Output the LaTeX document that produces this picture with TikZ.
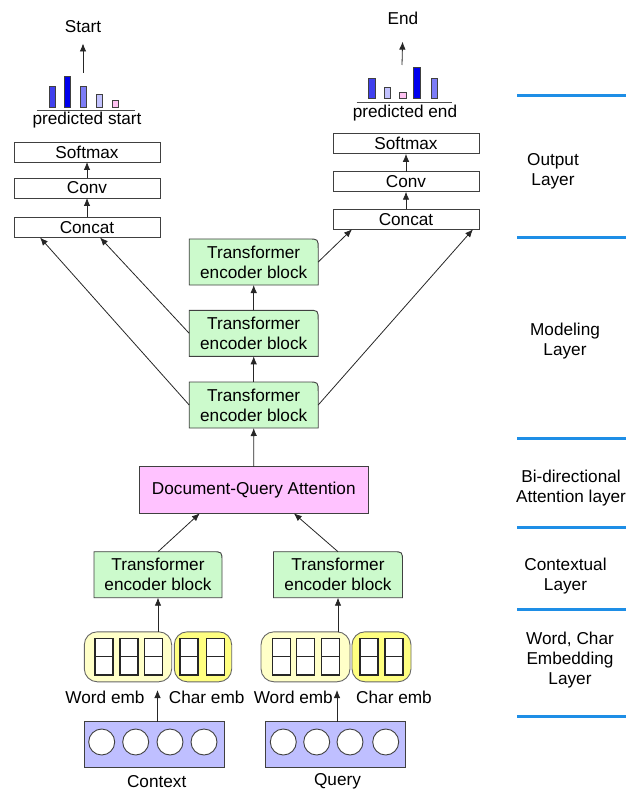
\documentclass[tikz,border=0pt]{standalone}
\usepackage{fontspec}
\setmainfont{Liberation Sans}
\usetikzlibrary{arrows.meta,backgrounds}
\definecolor{tgreen}{HTML}{CCFACC}
\definecolor{dqpink}{HTML}{FFC2FF}
\definecolor{ctxblue}{HTML}{BFBFFF}
\definecolor{wyel}{HTML}{FFFFC8}
\definecolor{cyel}{HTML}{FFFF80}
\definecolor{sepblue}{HTML}{1E8EE6}
\definecolor{barA}{HTML}{4040EE}
\definecolor{barB}{HTML}{0000EE}
\definecolor{barC}{HTML}{7C7CF6}
\definecolor{barD}{HTML}{C2C2FF}
\definecolor{barE}{HTML}{FFC2F2}
\definecolor{edge}{HTML}{404040}
\begin{document}
\begin{tikzpicture}[x=1pt,y=-1pt,
  every node/.style={font=\fontsize{17.2}{20}\selectfont, inner sep=0pt, outer sep=0pt},
  obox/.style={draw=edge, fill=white, line width=0.9pt, minimum width=146pt, minimum height=20pt},
  tblock/.style={minimum width=129pt, minimum height=46pt, align=center},
  tbshape/.style={draw=edge, fill=tgreen, line width=0.9pt},
  dqbox/.style={draw=edge, fill=dqpink, line width=0.9pt, minimum width=229pt, minimum height=46.6pt},
  pill/.style={draw=edge!80, line width=0.9pt, rounded corners=13pt, minimum height=50pt},
  cell/.style={draw=black!85, fill=white, line width=1.1pt},
  inbox/.style={draw=edge, fill=ctxblue, line width=0.9pt, minimum width=140pt, minimum height=45.6pt},
  dot/.style={draw=edge, fill=white, line width=0.9pt},
  bar/.style={draw=edge, line width=0.8pt},
  arr/.style={-{Latex[length=8pt,width=6.5pt]}, draw=black!85, line width=0.8pt},
  sep/.style={draw=sepblue, line width=3pt},
  lbl/.style={align=center}
]
\useasboundingbox (0,0) rectangle (626,791);

% ---------- output layer, left ----------
\node (start) at (83,26.7) {Start};
\coordinate (sbar) at (83,73);
\draw[arr, shorten >=10.7pt] (sbar) -- (start.south);
\draw[bar, fill=barA] (49.3,86) rectangle (55.7,107.5);
\draw[bar, fill=barB] (64.3,76.7) rectangle (70.7,107.5);
\draw[bar, fill=barC] (80,86) rectangle (86.7,107.5);
\draw[bar, fill=barD] (96,94.3) rectangle (102.3,107.5);
\draw[bar, fill=barE] (112.3,100) rectangle (118.7,107.5);
\draw[draw=black!70, line width=0.9pt] (37,110) -- (135,110);
\node (pstart) at (87,120) {predicted start};
\node[obox] (lsoft) at (87,152) {Softmax};
\node[obox] (lconv) at (87,188) {Conv};
\node[obox] (lconcat) at (87,227.5) {Concat};
\draw[arr] (lconv.north) -- (lsoft.south);
\draw[arr] (lconcat.north) -- (lconv.south);

% ---------- output layer, right ----------
\node (end) at (403,18.3) {End};
\coordinate (ebar) at (402,65);
\draw[arr, shorten >=17pt] (ebar) -- (end.south);
\draw[bar, fill=barA] (368.3,78.3) rectangle (375,98.5);
\draw[bar, fill=barD] (384,87) rectangle (390,98.5);
\draw[bar, fill=barE] (399.3,92.3) rectangle (406,98.5);
\draw[bar, fill=barB] (413.3,67.7) rectangle (420.7,98.5);
\draw[bar, fill=barC] (431.3,78.3) rectangle (437.7,98.5);
\draw[draw=black!70, line width=0.9pt] (356.7,102.5) -- (451.7,102.5);
\node (pend) at (405,113) {predicted end};
\node[obox] (rsoft) at (406,143.8) {Softmax};
\node[obox] (rconv) at (406,181.7) {Conv};
\node[obox] (rconcat) at (406,219.3) {Concat};
\draw[arr] (rconv.north) -- (rsoft.south);
\draw[arr] (rconcat.north) -- (rconv.south);

% ---------- modeling layer ----------
\node[tblock] (t3) at (253.7,262) {Transformer\\encoder block};
\node[tblock] (t2) at (253.7,333.3) {Transformer\\encoder block};
\node[tblock] (t1) at (253.7,405) {Transformer\\encoder block};
\draw[arr] (t1.north) -- (t2.south);
\draw[arr] (t2.north) -- (t3.south);
\draw[arr] (t2.west) -- ([xshift=13pt]lconcat.south);
\draw[arr] (t1.west) -- ([xshift=-47pt]lconcat.south);
\draw[arr] (t3.east) -- ([xshift=-54pt]rconcat.south);
\draw[arr] (t1.east) -- ([xshift=67pt]rconcat.south);

% ---------- attention ----------
\node[dqbox] (dqa) at (253.8,490) {Document-Query Attention};
\draw[arr] (dqa.north) -- (t1.south);

% ---------- contextual ----------
\node[tblock, minimum width=128pt] (ltb) at (158,574.7) {Transformer\\encoder block};
\node[tblock] (rtb) at (338,574.7) {Transformer\\encoder block};
\draw[arr] (ltb.north) -- ([xshift=-54pt]dqa.south);
\draw[arr] (rtb.north) -- ([xshift=40pt]dqa.south);

\begin{scope}[on background layer]
\foreach \n in {t1,t2,t3,ltb,rtb}{
  \draw[tbshape] (\n.south west) -- (\n.north west) -- ([xshift=-10pt]\n.north east)
    .. controls (\n.north east) .. ([yshift=-10pt]\n.north east) -- (\n.south east) -- cycle;
}
\end{scope}

% ---------- embeddings ----------
\node[pill, fill=wyel, minimum width=87.4pt] (lwe) at (128,656.8) {};
\node[pill, fill=cyel, minimum width=57.4pt] (lce) at (203,656.8) {};
\node[pill, fill=wyel, minimum width=89pt] (rwe) at (305.5,656.8) {};
\node[pill, fill=cyel, minimum width=59pt] (rce) at (381.5,656.8) {};
\foreach \x in {95,120,144.3,180,206.7,272.3,296.7,321.7,360,385}{
  \draw[cell] (\x,638.3) rectangle ++(18,36.7);
  \draw[cell] (\x,656.7) -- ++(18,0);
}
\draw[arr] (lwe.north -| ltb.south) -- (ltb.south);
\draw[arr] (rwe.north -| rtb.south) -- (rtb.south);
\node (lwl) at (105,697) {Word emb};
\node (lcl) at (206.7,697) {Char emb};
\node (rwl) at (293.3,697) {Word emb};
\node (rcl) at (394,697) {Char emb};

% ---------- inputs ----------
\node[inbox] (ctx) at (154,744.5) {};
\node[inbox, minimum width=139.3pt] (qry) at (335.3,744.5) {};
\foreach \x in {101.7,135.7,170,204,283.3,316.7,350,385.7}{
  \draw[dot] (\x,742) circle[radius=13pt];
}
\node (ctxl) at (156.7,781.7) {Context};
\node (qryl) at (337.5,781.7) {Query};
\coordinate (lembtip) at (157.5,690);
\coordinate (rembtip) at (337,690);
\draw[arr] (ctx.north -| lembtip) -- (lembtip);
\draw[arr] (qry.north -| rembtip) -- (rembtip);

% ---------- layer separators and labels ----------
\foreach \y in {96,237.5,438.3,527.3,609,716}{
  \draw[sep] (517,\y) -- (626,\y);
}
\node[lbl] (lout) at (553,171.2) {Output\\Layer};
\node[lbl] (lmod) at (565,341) {Modeling\\Layer};
\node[lbl] (latt) at (571,488) {Bi-directional\\Attention layer};
\node[lbl] (lctx) at (565.5,576) {Contextual\\Layer};
\node[lbl] (lemb) at (570,659.7) {Word, Char\\Embedding\\Layer};
\end{tikzpicture}
\end{document}
